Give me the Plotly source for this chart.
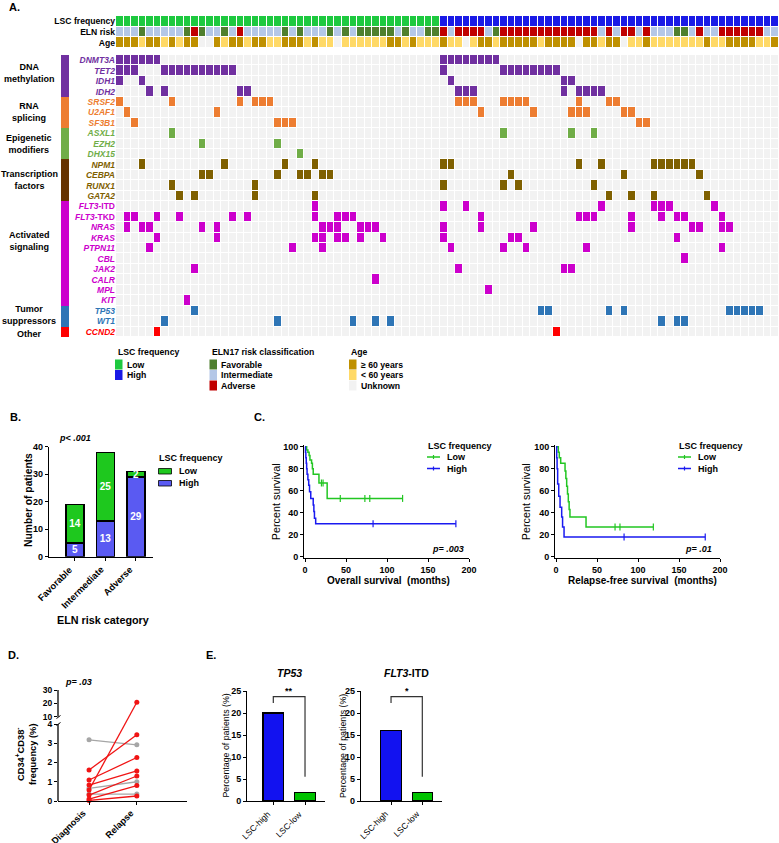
import plotly.graph_objects as go

W, H = 779, 843
FONT = "Liberation Sans, Arial, sans-serif"

# ============================ DATA ============================
# ---- Panel A: oncoprint ----
n_low, n_high = 43, 45                      # patients with low / high LSC frequency
eln_risk = ("IIIFIIIIIFAFIIFIAIIIIIFIFIIIFIFIFFFFFIFIIFF"
            "AIAAAAIFAAAAAAAAAAAAAIAIAAIAIIIFFIAIIAAAAAAII")   # F/I/A
age_group = ("OOOYOOYOYOOUUOYOOYOOYYOOOYOYYUYYYYYYOOYOYYY"
             "OYYUYOOYOOOOOYOOOOUOOYOOUYYOYYYYYYYOYYOOOOYYO")  # O>=60, Y<60, U unknown
header_labels = ["LSC frequency", "ELN risk", "Age"]

gene_names = ["DNMT3A", "TET2", "IDH1", "IDH2", "SRSF2", "U2AF1", "SF3B1", "ASXL1", "EZH2",
              "DHX15", "NPM1", "CEBPA", "RUNX1", "GATA2", "FLT3-ITD", "FLT3-TKD", "NRAS",
              "KRAS", "PTPN11", "CBL", "JAK2", "CALR", "MPL", "KIT", "TP53", "WT1", "CCND2"]
gene_group = [0, 0, 0, 0, 1, 1, 1, 2, 2, 2, 3, 3, 3, 3, 4, 4, 4, 4, 4, 4, 4, 4, 4, 4, 5, 5, 6]
group_names = ["DNA<br>methylation", "RNA<br>splicing", "Epigenetic<br>modifiers",
               "Transcription<br>factors", "Activated<br>signaling", "Tumor<br>suppressors", "Other"]
group_label_row = [1.2, 5.0, 8.0, 11.5, 17.3, 24.35, 26.2]

mutated = {
    "DNMT3A": [0, 1, 2, 3, 4, 5, 43, 44, 45, 46, 47, 48, 49, 50],
    "TET2": [0, 1, 2, 6, 7, 8, 9, 10, 11, 12, 13, 14, 15, 43, 51, 52, 53, 54, 55, 56, 57, 58],
    "IDH1": [0, 3, 44, 59, 60],
    "IDH2": [4, 6, 16, 17, 45, 46, 47, 59, 61, 62, 63, 64],
    "SRSF2": [0, 7, 16, 18, 19, 20, 45, 46, 47, 51, 52, 53, 54, 61, 65, 66],
    "U2AF1": [1, 13, 48, 55, 60, 61, 62, 67, 68],
    "SF3B1": [2, 21, 22, 23, 69, 70],
    "ASXL1": [7, 51, 60, 63],
    "EZH2": [11, 21],
    "DHX15": [24],
    "NPM1": [3, 14, 22, 26, 43, 44, 61, 64, 71, 72, 73, 74, 75, 76],
    "CEBPA": [11, 12, 21, 24, 25, 27, 28, 52, 67, 77],
    "RUNX1": [7, 18, 43, 51, 53, 63],
    "GATA2": [8, 10, 18, 26, 65, 68, 71, 78],
    "FLT3-ITD": [26, 43, 46, 64, 71, 72, 73, 79],
    "FLT3-TKD": [1, 2, 5, 8, 15, 17, 26, 29, 30, 31, 48, 61, 62, 63, 68, 72, 74, 75, 80],
    "NRAS": [1, 3, 4, 11, 13, 27, 28, 29, 32, 33, 34, 43, 48, 55, 68, 76, 77, 80, 81],
    "KRAS": [5, 13, 26, 27, 29, 30, 32, 35, 43, 52, 53, 74],
    "PTPN11": [4, 23, 27, 44, 51, 54, 62, 80],
    "CBL": [75],
    "JAK2": [10, 45, 59, 60],
    "CALR": [34],
    "MPL": [49],
    "KIT": [9],
    "TP53": [10, 56, 57, 65, 67, 81, 82, 83, 84, 85],
    "WT1": [6, 21, 31, 34, 36, 72, 74, 75],
    "CCND2": [5, 58],
}

# ---- Panel B ----
eln_categories = ["Favorable", "Intermediate", "Adverse"]
b_high = [5, 13, 29]
b_low = [14, 25, 2]

# ---- Panel C: Kaplan-Meier ----
os_low_t = [0, 2, 3.5, 5, 6, 8, 9, 10, 17, 27, 119]
os_low_s = [100, 97, 95, 92, 88, 85, 80, 75, 67, 53, 53]
os_low_ct = [20, 22, 43, 73, 79, 119]
os_low_cs = [67, 67, 53, 53, 53, 53]
os_high_t = [0, 0.5, 1, 1.5, 2, 2.5, 3.5, 4.5, 5.5, 7, 10, 10.8, 11.5, 13, 184]
os_high_s = [100, 95, 90, 85, 80, 75, 70, 65, 59, 53, 47, 41, 35, 30, 30]
os_high_ct = [83, 184]
os_high_cs = [30, 30]
rfs_low_t = [0, 2.8, 4, 5.7, 11, 12, 13, 14, 15, 16, 17, 36.6, 118.7]
rfs_low_s = [100, 95, 90, 85, 78, 71, 64, 57, 50, 43, 36, 27, 27]
rfs_low_ct = [72, 78, 118.7]
rfs_low_cs = [27, 27, 27]
rfs_high_t = [0, 0.8, 1.3, 2, 3.3, 4.9, 6.9, 8, 9.8, 182]
rfs_high_s = [100, 90, 80, 66, 55, 45, 36, 27, 18, 18]
rfs_high_ct = [83, 182]
rfs_high_cs = [18, 18]

# ---- Panel D: paired CD34+CD38- frequency ----
d_timepoints = ["Diagnosis", "Relapse"]
d_diag_red = [1.61, 1.09, 0.83, 0.57, 0.31, 0.10, 0.03]
d_rel_red = [3.44, 2.26, 1.56, 20.8, 1.30, 0.80, 0.26]
d_diag_gray = [3.18, 0.66, 0.36]
d_rel_gray = [2.92, 1.00, 0.36]
d_ticks = [0, 1, 2, 3, 4, 10, 20, 30]

# ---- Panel E ----
e_groups = ["LSC-high", "LSC-low"]
e_tp53 = [20, 2]
e_flt3 = [16, 2]
e_bracket_y = [22.3, 23.7, 23.7, 5.5]

# ============================ HELPERS ============================
def xdom(a, b):
    return [a / W, b / W]


def ydom(top, bottom):
    return [1 - bottom / H, 1 - top / H]


def px(x):
    return x / W


def py(y):
    return 1 - y / H


def fnt(size=9, bold=True, italic=False, color="black"):
    return dict(family=FONT, size=size, color=color,
                weight="bold" if bold else "normal",
                style="italic" if italic else "normal")


annotations = []
shapes = []


def ann(text, x, y, size=9, bold=True, italic=False, xanchor="center",
        yanchor="middle", color="black", angle=0, yref="paper"):
    annotations.append(dict(
        text=text, x=px(x), y=py(y) if yref == "paper" else y, xref="paper", yref=yref,
        showarrow=False, xanchor=xanchor, yanchor=yanchor,
        font=fnt(size, bold, italic, color), textangle=angle))


def rect(x0, y0, x1, y1, fill, line=None, lw=0.8):
    shapes.append(dict(type="rect", xref="paper", yref="paper",
                       x0=px(x0), x1=px(x1), y0=py(y1), y1=py(y0),
                       fillcolor=fill, line=dict(color=line or fill, width=lw if line else 0)))


def seg(x0, y0, x1, y1, color, w=1.3, yref="paper"):
    shapes.append(dict(type="line", xref="paper", yref=yref, x0=px(x0), x1=px(x1),
                       y0=py(y0) if yref == "paper" else y0,
                       y1=py(y1) if yref == "paper" else y1,
                       line=dict(color=color, width=w)))


def discrete(colors):
    n = len(colors)
    cs = []
    for i, c in enumerate(colors):
        cs.append([i / n, c])
        cs.append([(i + 1) / n, c])
    return cs


def rot_labels(labels, tick_px, axis_y, size=9, bold=True):
    for lab, tx in zip(labels, tick_px):
        ann(lab, tx + 2, axis_y + 4.5, size=size, bold=bold, angle=-45,
            xanchor="right", yanchor="top")


fig = go.Figure()

# ============================ PANEL A ============================
N = n_low + n_high
assert len(eln_risk) == N and len(age_group) == N

C_EMPTY = "#F2F2F2"
cell_colors = ["#7030A0", "#ED7D31", "#70AD47", "#7F6000", "#CC00CC", "#2E75B6", "#FF0000"]
bar_colors = ["#7030A0", "#ED7D31", "#70AD47", "#663300", "#CC00CC", "#2E75B6", "#FF0000"]
lsc_colors = {"L": "#1DC93F", "H": "#1A1AE6"}
eln_colors = {"F": "#4F7F2E", "I": "#B4C7E7", "A": "#C00000"}
age_colors = {"O": "#BF9000", "Y": "#FFD966", "U": "#F2F2F2"}

hdr_palette = [lsc_colors["L"], lsc_colors["H"], eln_colors["F"], eln_colors["I"],
               eln_colors["A"], age_colors["O"], age_colors["Y"], age_colors["U"]]
lsc_row = [0] * n_low + [1] * n_high
eln_row = [{"F": 2, "I": 3, "A": 4}[c] for c in eln_risk]
age_row = [{"O": 5, "Y": 6, "U": 7}[c] for c in age_group]

fig.add_trace(go.Heatmap(
    z=[lsc_row, eln_row, age_row], x=list(range(N)), y=[0, 1, 2],
    colorscale=discrete(hdr_palette), zmin=-0.5, zmax=len(hdr_palette) - 0.5,
    showscale=False, xgap=1, ygap=1, hoverinfo="skip", xaxis="x", yaxis="y"))

z_genes = []
for g, grp in zip(gene_names, gene_group):
    z_genes.append([grp + 1 if c in mutated[g] else 0 for c in range(N)])
fig.add_trace(go.Heatmap(
    z=z_genes, x=list(range(N)), y=list(range(len(gene_names))),
    colorscale=discrete([C_EMPTY] + cell_colors), zmin=-0.5, zmax=len(cell_colors) + 0.5,
    showscale=False, xgap=1, ygap=1, hoverinfo="skip", xaxis="x", yaxis="y2"))

fig.add_trace(go.Heatmap(
    z=[[grp + 1] for grp in gene_group], x=[0], y=list(range(len(gene_names))),
    colorscale=discrete(["#FFFFFF"] + bar_colors), zmin=-0.5, zmax=len(bar_colors) + 0.5,
    showscale=False, hoverinfo="skip", xaxis="x2", yaxis="y2"))


def gene_label(name, grp):
    col = cell_colors[grp]
    if name.startswith("FLT3"):
        inner = "<i>FLT3</i>" + name[4:]
    else:
        inner = "<i>" + name + "</i>"
    return '<span style="color:%s">%s</span>' % (col, inner)


gene_ticktext = [gene_label(g, grp) for g, grp in zip(gene_names, gene_group)]

for name, row in zip(group_names, group_label_row):
    ann(name, 29, row, size=9, yref="y2")

# legend of panel A
ann("LSC frequency", 115.5, 352, size=8.7, xanchor="left")
for i, (lab, key) in enumerate([("Low", "L"), ("High", "H")]):
    yc = 364.5 + i * 10.5
    rect(115, yc - 5, 122.5, yc + 5, lsc_colors[key])
    ann(lab, 124.5, yc, size=8.7, xanchor="left")
ann("ELN17 risk classification", 210, 352, size=8.7, xanchor="left")
for i, (lab, key) in enumerate([("Favorable", "F"), ("Intermediate", "I"), ("Adverse", "A")]):
    yc = 364.5 + i * 10.5
    rect(209.5, yc - 5, 217, yc + 5, eln_colors[key])
    ann(lab, 219, yc, size=8.7, xanchor="left")
ann("Age", 349.3, 352, size=8.7, xanchor="left")
for i, (lab, key) in enumerate([("\u2265 60 years", "O"), ("< 60 years", "Y"), ("Unknown", "U")]):
    yc = 364.5 + i * 10.5
    rect(349, yc - 5, 356.5, yc + 5, age_colors[key])
    ann(lab, 358.7, yc, size=8.7, xanchor="left")

# ============================ PANEL B ============================
C_LOW_B, C_HIGH_B = "#1EC81E", "#5A5AF2"
for vals, col in [(b_high, C_HIGH_B), (b_low, C_LOW_B)]:
    fig.add_trace(go.Bar(
        x=eln_categories, y=vals, marker=dict(color=col, line=dict(color="black", width=1.2)),
        width=0.59, text=vals, textposition="inside", insidetextanchor="middle", textangle=0,
        constraintext="none", textfont=fnt(10, True, False, "white"), xaxis="x3", yaxis="y3",
        hoverinfo="skip", cliponaxis=False))

rot_labels(eln_categories, [75, 106, 136], 557.5, size=9.3)
ann("p< .001", 75, 438, size=9, italic=True)
ann("Number of patients", 28.5, 500.5, size=10.3, angle=-90)
ann("ELN risk category", 103, 620, size=10.8)
ann("LSC frequency", 157, 458, size=9, xanchor="left")
rect(158.5, 468.5, 171.5, 474, C_LOW_B, "black")
ann("Low", 176.5, 471, size=9, xanchor="left")
rect(158.5, 480.5, 171.5, 486, C_HIGH_B, "black")
ann("High", 176.5, 483.3, size=9, xanchor="left")

# ============================ PANEL C ============================
C_GREEN, C_BLUE = "#22C622", "#1A1AF0"


def km(t, s, ct, cs, color, xa, ya):
    fig.add_trace(go.Scatter(x=t, y=s, mode="lines", line=dict(color=color, width=1.5, shape="hv"),
                             xaxis=xa, yaxis=ya, hoverinfo="skip"))
    fig.add_trace(go.Scatter(x=ct, y=cs, mode="markers",
                             marker=dict(symbol="line-ns", size=5, line=dict(color=color, width=1.2)),
                             xaxis=xa, yaxis=ya, hoverinfo="skip", cliponaxis=False))


km(os_low_t, os_low_s, os_low_ct, os_low_cs, C_GREEN, "x4", "y4")
km(os_high_t, os_high_s, os_high_ct, os_high_cs, C_BLUE, "x4", "y4")
km(rfs_low_t, rfs_low_s, rfs_low_ct, rfs_low_cs, C_GREEN, "x5", "y5")
km(rfs_high_t, rfs_high_s, rfs_high_ct, rfs_high_cs, C_BLUE, "x5", "y5")

for x0, ytitle_x, xt_c, xtitle, pv, pvx in [
        (426, 275.5, 388, "Overall survival\u00a0 (months)", "p= .003", 448),
        (677, 525.5, 642, "Relapse-free survival\u00a0 (months)", "p= .01", 698)]:
    ann("LSC frequency", x0, 446, size=9, xanchor="left")
    for i, c in enumerate([C_GREEN, C_BLUE]):
        yc = 457 + i * 11.5
        seg(x0 + 1, yc, x0 + 14, yc, c, 1.5)
        seg(x0 + 7.5, yc - 2, x0 + 7.5, yc + 2, c, 1.2)
        ann(["Low", "High"][i], x0 + 19, yc, size=9, bold=True, xanchor="left")
    ann("Percent survival", ytitle_x, 501.7, size=10.8, bold=False, angle=-90)
    ann(xtitle, xt_c, 580.5, size=10)
    ann(pv, pvx, 549, size=9, italic=True)

# ============================ PANEL D ============================
D_LOW_MAX, D_GAP, D_UP_SCALE = 4.0, 0.38, 0.0694


def dt(v):
    """piecewise (broken) axis transform"""
    if v <= D_LOW_MAX:
        return v
    return D_LOW_MAX + D_GAP + (v - 10) * D_UP_SCALE


def paired(diag, rel, color):
    xs, ys = [], []
    for a, b in zip(diag, rel):
        xs += [d_timepoints[0], d_timepoints[1], None]
        ys += [dt(a), dt(b), None]
    fig.add_trace(go.Scatter(x=xs, y=ys, mode="lines+markers",
                             line=dict(color=color, width=1.3),
                             marker=dict(color=color, size=5), cliponaxis=False,
                             xaxis="x6", yaxis="y6", hoverinfo="skip", connectgaps=False))


paired(d_diag_gray, d_rel_gray, "#A6A6A6")
paired(d_diag_red, d_rel_red, "#F01414")

seg(58, dt(0), 58, dt(4), "black", 1.3, yref="y6")
seg(58, dt(10), 58, dt(30), "black", 1.3, yref="y6")
seg(56.5, 725.5, 60.5, 722.5, "black", 1.0)
seg(56.5, 718.5, 60.5, 715.5, "black", 1.0)

rot_labels(d_timepoints, [89, 136.7], 801, size=9.2)
ann("p= .03", 78, 682, size=9, italic=True)
ann("CD34<sup>+</sup>CD38<sup>-</sup><br>frequency (%)", 26, 755, size=9.3, angle=-90)

# ============================ PANEL E ============================
E_BLUE, E_GREEN = "#1212F0", "#00C300"
for vals, xa, ya in [(e_tp53, "x7", "y7"), (e_flt3, "x8", "y8")]:
    fig.add_trace(go.Bar(x=e_groups, y=vals, width=0.65,
                         marker=dict(color=[E_BLUE, E_GREEN], line=dict(color="black", width=1.2)),
                         xaxis=xa, yaxis=ya, hoverinfo="skip"))
    fig.add_trace(go.Scatter(x=[e_groups[0], e_groups[0], e_groups[1], e_groups[1]], y=e_bracket_y,
                             mode="lines", line=dict(color="#333333", width=1.2),
                             xaxis=xa, yaxis=ya, hoverinfo="skip"))

rot_labels(e_groups, [273.3, 305], 801, size=8.5, bold=False)
rot_labels(e_groups, [391, 422.3], 801, size=8.5, bold=False)
ann("<i>TP53</i>", 289, 673, size=10.5)
ann("<i>FLT3</i>-ITD", 406.7, 673, size=10.5)
ann("**", 289, 691, size=9)
ann("*", 406.7, 691, size=9)
ann("Percentage of patients (%)", 225.5, 746, size=8.8, bold=False, angle=-90)
ann("Percentage of patients (%)", 343, 746, size=8.8, bold=False, angle=-90)

# panel letters
ann("A.", 7, 6.5, size=11, xanchor="left")
ann("B.", 8, 417, size=11, xanchor="left")
ann("C.", 252, 417, size=11, xanchor="left")
ann("D.", 6, 655, size=11, xanchor="left")
ann("E.", 204, 655, size=11, xanchor="left")

# ============================ LAYOUT ============================
AX = dict(showline=True, linecolor="black", linewidth=1.3, ticks="outside", ticklen=3,
          tickwidth=1.2, tickcolor="black", showgrid=False, zeroline=False,
          tickfont=fnt(9), automargin=False, fixedrange=True)
HIDE = dict(visible=False, showgrid=False, zeroline=False, automargin=False, fixedrange=True)

layout = dict(
    width=W, height=H, margin=dict(l=0, r=0, t=0, b=0),
    paper_bgcolor="white", plot_bgcolor="white", showlegend=False,
    font=dict(family=FONT, color="black"), barmode="stack", hovermode=False,
    annotations=annotations, shapes=shapes,
    # panel A
    xaxis=dict(HIDE, domain=xdom(116, 779), range=[-0.5, N - 0.5], anchor="y"),
    yaxis=dict(domain=ydom(16, 48), range=[2.5, -0.5], tickmode="array", tickvals=[0, 1, 2],
               ticktext=header_labels, tickfont=fnt(8.6), showgrid=False, zeroline=False,
               showline=False, ticks="", automargin=False, anchor="x", fixedrange=True),
    yaxis2=dict(domain=ydom(55, 337), range=[len(gene_names) - 0.5, -0.5], tickmode="array",
                tickvals=list(range(len(gene_names))), ticktext=gene_ticktext,
                tickfont=fnt(8.5, True, False), showgrid=False, zeroline=False, showline=False,
                ticks="", automargin=False, anchor="x", fixedrange=True),
    xaxis2=dict(HIDE, domain=xdom(61, 69), range=[-0.5, 0.5], anchor="y2"),
    # panel B
    xaxis3=dict(AX, domain=xdom(49, 153), range=[-0.85, 2.56], anchor="y3",
                type="category", showticklabels=False),
    yaxis3=dict(AX, domain=ydom(446.7, 556.7), range=[0, 40], tickvals=[0, 10, 20, 30, 40],
                anchor="x3"),
    # panel C
    xaxis4=dict(AX, domain=xdom(304.2, 469), range=[-1, 200], tickvals=[0, 50, 100, 150, 200],
                anchor="y4"),
    yaxis4=dict(AX, domain=ydom(445.05, 557.8), range=[-1, 101.5],
                tickvals=[0, 20, 40, 60, 80, 100], anchor="x4"),
    xaxis5=dict(AX, domain=xdom(555.2, 720), range=[-1, 200], tickvals=[0, 50, 100, 150, 200],
                anchor="y5"),
    yaxis5=dict(AX, domain=ydom(445.05, 557.8), range=[-1, 101.5],
                tickvals=[0, 20, 40, 60, 80, 100], anchor="x5"),
    # panel D
    xaxis6=dict(AX, domain=xdom(58, 187), range=[-0.65, 2.05], anchor="y6",
                type="category", categoryorder="array", categoryarray=d_timepoints,
                showticklabels=False),
    yaxis6=dict(AX, domain=ydom(690, 801), range=[0, dt(30)], showline=False,
                tickmode="array", tickvals=[dt(v) for v in d_ticks],
                ticktext=[str(v) for v in d_ticks], anchor="x6", tickfont=fnt(8.5)),
    # panel E
    xaxis7=dict(AX, domain=xdom(247.3, 325), range=[-0.82, 1.63], anchor="y7",
                type="category", showticklabels=False),
    yaxis7=dict(AX, domain=ydom(691, 801), range=[0, 25], tickvals=[0, 5, 10, 15, 20, 25],
                anchor="x7"),
    xaxis8=dict(AX, domain=xdom(361, 441.7), range=[-0.96, 1.62], anchor="y8",
                type="category", showticklabels=False),
    yaxis8=dict(AX, domain=ydom(691, 801), range=[0, 25], tickvals=[0, 5, 10, 15, 20, 25],
                anchor="x8"),
)
fig.update_layout(**layout)

fig.write_html("out.html", config={"displayModeBar": False, "staticPlot": False},
               post_script="document.body.style.margin='0px';document.body.style.overflow='hidden';")
